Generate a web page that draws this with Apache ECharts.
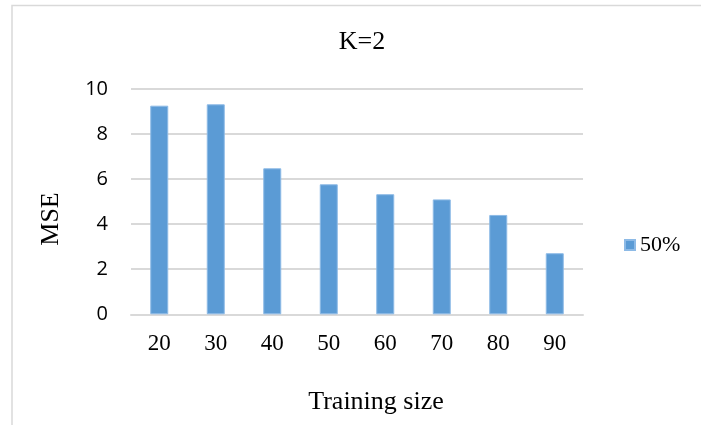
<!DOCTYPE html>
<html>
<head>
<meta charset="utf-8">
<script src="https://cdn.jsdelivr.net/npm/echarts@6/dist/echarts.min.js"></script>
<style>
  html, body { margin: 0; padding: 0; background: #fff; }
  #chart { width: 701px; height: 425px; }
</style>
</head>
<body>
<div id="chart"></div>
<script>
// Training sizes and the mean squared error for each
const categories = ['20', '30', '40', '50', '60', '70', '80', '90'];
const mse50 = [9.26, 9.32, 6.48, 5.77, 5.33, 5.10, 4.41, 2.71];
const yTicks = [0, 2, 4, 6, 8, 10];
const seriesName = '50%';
const titleText = 'K=2';
const xName = 'Training size';
const yName = 'MSE';

const serif = '"Liberation Serif", "Times New Roman", serif';
const sans = '"Open Sans", "Noto Sans", sans-serif';

const chart = echarts.init(document.getElementById('chart'), null, { renderer: 'canvas' });

chart.setOption({
  animation: false,
  backgroundColor: '#fff',
  graphic: [
    {
      type: 'rect',
      shape: { x: 12, y: 5.5, width: 720, height: 440 },
      style: { fill: 'none', stroke: '#d9d9d9', lineWidth: 1.5 },
      silent: true
    },
    {
      type: 'text',
      x: 51,
      y: 219,
      rotation: Math.PI / 2,
      style: { text: yName, font: '26px ' + serif, fill: '#000', align: 'center', verticalAlign: 'middle' },
      silent: true
    }
  ],
  title: {
    text: titleText,
    left: 362,
    top: 29,
    textAlign: 'center',
    padding: 0,
    textStyle: { fontFamily: serif, fontSize: 26, fontWeight: 'normal', color: '#000' }
  },
  legend: {
    data: [seriesName],
    left: 624,
    top: 234,
    padding: 0,
    itemWidth: 10,
    itemHeight: 10,
    itemGap: 6,
    icon: 'rect',
    textStyle: { fontFamily: serif, fontSize: 22, color: '#000' }
  },
  grid: { left: 131, right: 118, top: 89, bottom: 110.7, outerBoundsMode: 'none' },
  xAxis: {
    type: 'category',
    data: categories,
    name: xName,
    nameLocation: 'middle',
    nameGap: 75,
    nameTextStyle: { fontFamily: serif, fontSize: 26, color: '#000', padding: [0, 0, 0, 38] },
    axisLine: { show: true, lineStyle: { color: '#d9d9d9', width: 2 } },
    axisTick: { show: false },
    axisLabel: { fontFamily: serif, fontSize: 23, color: '#000', margin: 18 }
  },
  yAxis: {
    type: 'value',
    min: yTicks[0],
    max: yTicks[yTicks.length - 1],
    interval: 2,
    axisLine: { show: false },
    axisTick: { show: false },
    splitLine: { lineStyle: { color: '#d9d9d9', width: 2 } },
    axisLabel: { fontFamily: sans, fontSize: 20, color: '#000', margin: 23 }
  },
  series: [{
    name: seriesName,
    type: 'bar',
    data: mse50,
    barWidth: 18,
    itemStyle: { color: '#5b9bd5', borderColor: '#8dbae6', borderWidth: 1 }
  }]
});
</script>
</body>
</html>
